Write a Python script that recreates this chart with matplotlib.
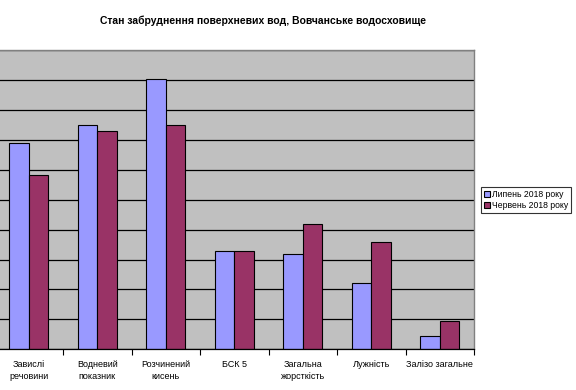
import numpy as np
import matplotlib
matplotlib.use("Agg")
import matplotlib.pyplot as plt
from matplotlib.ticker import FixedLocator

plt.rcParams['font.family'] = ['Liberation Sans', 'DejaVu Sans']

categories = ["Завислі\nречовини", "Водневий\nпоказник", "Розчинений\nкисень", "БСК 5",
              "Загальна\nжорсткість", "Лужність", "Залізо загальне"]
july = [6.88, 7.48, 9.03, 3.27, 3.2, 2.2, 0.43]
june = [5.81, 7.28, 7.5, 3.27, 4.2, 3.6, 0.96]
series_names = ["Липень 2018 року", "Червень 2018 року"]
title = "Стан забруднення поверхневих вод, Вовчанське водосховище"

fig = plt.figure(figsize=(5.76, 3.9), dpi=100)
ax = fig.add_axes([-5.4/576, 1-349.3/390, (474+5.4)/576, (349.3-50)/390])
ax.set_facecolor('#C0C0C0')

x = np.arange(len(categories))
w = 1/3.5  # excel gap width 150
ax.bar(x - w/2, july, w, color='#9999FF', edgecolor='black', linewidth=0.8,
       label=series_names[0], zorder=3)
ax.bar(x + w/2, june, w, color='#993366', edgecolor='black', linewidth=0.8,
       label=series_names[1], zorder=3)

ax.set_xlim(-0.5, len(categories) - 0.5)
ax.set_ylim(0, 10)
ax.set_yticks(range(0, 11))
ax.yaxis.grid(True, color='black', linewidth=0.9, zorder=1)
ax.tick_params(axis='y', left=False, labelleft=False)

ax.set_xticks(x)
ax.set_xticklabels(categories, fontsize=6.5, linespacing=1.35, va='top')
ax.tick_params(axis='x', which='major', length=0, pad=8)
ax.xaxis.set_minor_locator(FixedLocator(np.arange(-0.5, len(categories), 1)))
ax.tick_params(axis='x', which='minor', length=4, width=0.8, direction='out')

for s in ['top', 'right', 'left']:
    ax.spines[s].set_color('#808080')
    ax.spines[s].set_linewidth(1.0)
ax.spines['bottom'].set_color('black')
ax.spines['bottom'].set_linewidth(0.9)
ax.spines['bottom'].set_zorder(4)

fig.text(263/576, 1-21/390, title, ha='center', va='center', fontsize=7.5, fontweight='bold')

leg = fig.legend(loc='center', bbox_to_anchor=(526/576, 1-200/390), fontsize=6.2,
                 frameon=True, fancybox=False, edgecolor='black', borderpad=0.3,
                 handlelength=0.7, handleheight=0.7, handletextpad=0.3, labelspacing=0.25,
                 borderaxespad=0)
leg.get_frame().set_linewidth(0.8)

fig.savefig('out.png', dpi=100, facecolor='white')
